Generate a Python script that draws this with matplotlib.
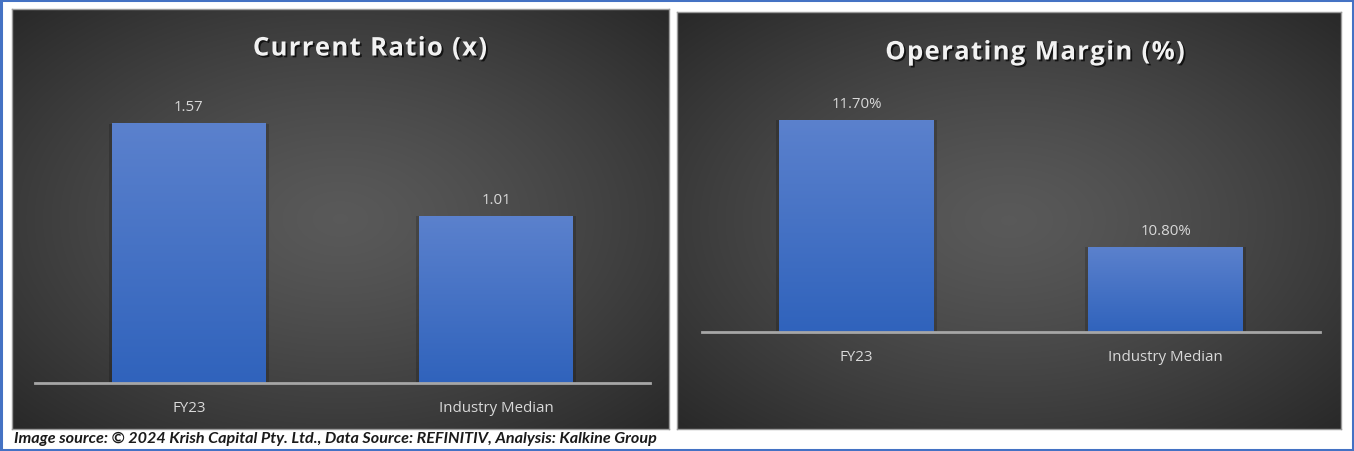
import numpy as np
import matplotlib
matplotlib.use('Agg')
import matplotlib.pyplot as plt
import matplotlib.patheffects as pe
from matplotlib.patches import Rectangle

# data
categories = ['FY23', 'Industry Median']
current_ratio = [1.57, 1.01]
current_labels = ['1.57', '1.01']
op_margin = [11.70, 10.80]
op_labels = ['11.70%', '10.80%']
footer = 'Image source: \u00a9 2024 Krish Capital Pty. Ltd., Data Source: REFINITIV, Analysis: Kalkine Group'

W, H = 1354, 452
fig = plt.figure(figsize=(W / 100, H / 100), dpi=100)
fig.patch.set_facecolor('white')


def px_axes(x0, y0, x1, y1, **kw):
    # axes from pixel box (top-left origin)
    return fig.add_axes([x0 / W, 1 - y1 / H, (x1 - x0) / W, (y1 - y0) / H], **kw)


# outer blue frame
frame = px_axes(0, 0, W, H)
frame.set_xlim(0, 1)
frame.set_ylim(0, 1)
frame.axis('off')
frame.add_patch(Rectangle((0.001, 0.002), 0.998, 0.996, fill=False,
                          edgecolor='#4472C4', lw=2.2))


def panel_bg(x0, y0, x1, y1):
    ax = px_axes(x0, y0, x1, y1)
    ny, nx = 200, 300
    yy, xx = np.mgrid[-1:1:ny * 1j, -1:1:nx * 1j]
    r = np.sqrt(xx ** 2 + yy ** 2) / np.sqrt(2)
    v = 0.35 - 0.19 * r ** 1.3
    img = np.dstack([v, v, v])
    ax.imshow(img, aspect='auto', extent=(0, 1, 0, 1), interpolation='bilinear')
    ax.set_xlim(0, 1)
    ax.set_ylim(0, 1)
    ax.set_xticks([])
    ax.set_yticks([])
    for s in ax.spines.values():
        s.set_color('#9a9a9a')
        s.set_linewidth(1.0)
    return ax


panel_bg(12, 10, 669, 430)
panel_bg(677, 13, 1341, 430)


def gradient_bars(ax, values, ymin):
    bars = ax.bar(range(len(values)), values, width=0.5, bottom=0, color='none',
                  zorder=3)
    grad = np.linspace(0, 1, 100).reshape(-1, 1)
    top = np.array([0x5b, 0x81, 0xcd]) / 255
    bot = np.array([0x30, 0x63, 0xbc]) / 255
    img = bot + (top - bot) * grad[..., None]
    for b in bars:
        x = b.get_x()
        w = b.get_width()
        h = b.get_height()
        # soft shadow
        ax.add_patch(Rectangle((x - 0.01, ymin), w + 0.02, h - ymin, color='black',
                               alpha=0.18, zorder=2, lw=0))
        ax.imshow(img, origin='lower', extent=(x, x + w, ymin, h), aspect='auto',
                  zorder=3)
    return bars


def spaced_title(text, cx, cy, size, spacing):
    # matplotlib has no letter spacing, so place the glyphs one by one
    renderer = fig.canvas.get_renderer()
    shadow = [pe.withSimplePatchShadow(offset=(1.3, -1.3), shadow_rgbFace='black',
                                       alpha=0.7)]
    objs, widths = [], []
    for ch in text:
        t = fig.text(0, 1 - cy / H, ch, ha='left', va='center', color='#f2f2f2',
                     fontsize=size, fontweight='bold', family='Open Sans',
                     path_effects=shadow)
        if ch == ' ':
            wpx = size * 0.26 * 100 / 72
        else:
            wpx = t.get_window_extent(renderer).width
        objs.append(t)
        widths.append(wpx)
    total = sum(widths) + spacing * (len(text) - 1)
    x = cx - total / 2
    for t, wpx in zip(objs, widths):
        t.set_x(x / W)
        x += wpx + spacing


def chart(box, values, labels, ymin, ymax, title, title_xy):
    ax = px_axes(*box)
    ax.patch.set_alpha(0)
    gradient_bars(ax, values, ymin)
    ax.set_xlim(-0.5, 1.5)
    ax.set_ylim(ymin, ymax)
    for i, (v, t) in enumerate(zip(values, labels)):
        ax.annotate(t, (i, v), xytext=(0, 7), textcoords='offset points',
                    ha='center', va='bottom', color='#d9d9d9', fontsize=10.8,
                    family='Open Sans', zorder=5)
    ax.set_xticks(range(len(categories)))
    ax.set_xticklabels(categories, color='#d9d9d9', fontsize=10.8, family='Open Sans')
    ax.tick_params(axis='x', length=0, pad=12)
    ax.set_yticks([])
    for s in ['left', 'right', 'top']:
        ax.spines[s].set_visible(False)
    ax.spines['bottom'].set_color('#a6a6a6')
    ax.spines['bottom'].set_linewidth(2)
    ax.spines['bottom'].set_zorder(4)
    spaced_title(title, title_xy[0], title_xy[1], 18.5, 1.3)
    return ax


chart((35, 100, 650, 384), current_ratio, current_labels, 0, 284 / 165,
      'Current Ratio (x)', (370, 49))
chart((702, 93, 1320, 333), op_margin, op_labels, 10.2, 11.9,
      'Operating Margin (%)', (1035, 53))

fig.text(14 / W, 1 - 439 / H, footer, ha='left', va='center', color='#1a1a1a',
         fontsize=11.6, fontweight='bold', style='italic', family='Lato')

fig.savefig('out.png', dpi=100, facecolor='white')
